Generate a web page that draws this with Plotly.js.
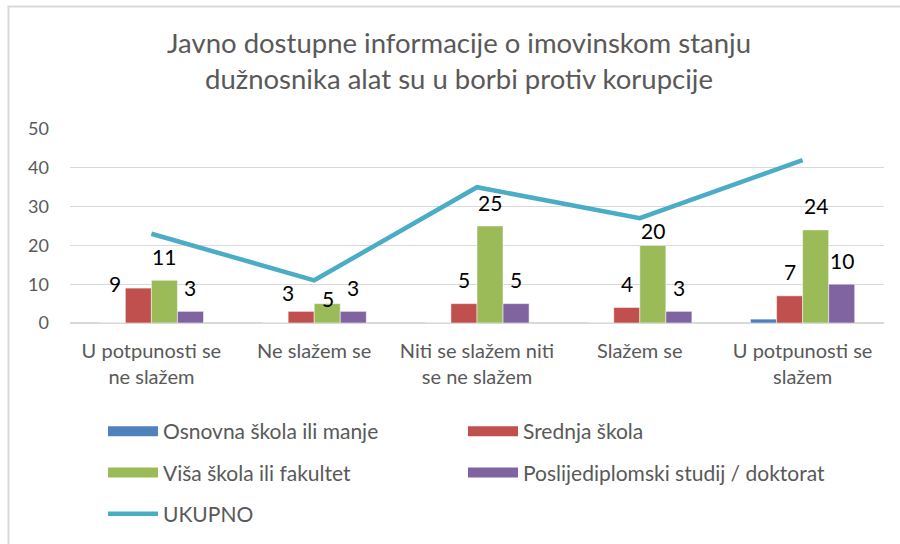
<!DOCTYPE html>
<html>
<head>
<meta charset="utf-8">
<script src="https://cdn.plot.ly/plotly-3.0.1.min.js"></script>
<style>html,body{margin:0;padding:0;background:#fff;}#chart{width:900px;height:544px;}</style>
</head>
<body>
<div id="chart"></div>
<script>
const categories = ["U potpunosti se<br>ne slažem", "Ne slažem se", "Niti se slažem niti<br>se ne slažem", "Slažem se", "U potpunosti se<br>slažem"];
const seriesNames = ["Osnovna škola ili manje", "Srednja škola", "Viša škola ili fakultet", "Poslijediplomski studij / doktorat"];
const osnovna = [0, 0, 0, 0, 1];
const srednja = [9, 3, 5, 4, 7];
const visa = [11, 5, 25, 20, 24];
const poslijediplomski = [3, 3, 5, 3, 10];
const ukupnoName = "UKUPNO";
const ukupno = [23, 11, 35, 27, 42];
const titleText = "Javno dostupne informacije o imovinskom stanju<br>dužnosnika alat su u borbi protiv korupcije";

const seriesValues = [osnovna, srednja, visa, poslijediplomski];
const colors = ["#4F81BD", "#C0504D", "#9BBB59", "#8064A2"];
const lineColor = "#4BACC6";
const FONT = "Lato, 'Open Sans', sans-serif";

const W = 900, H = 544, ML = 70, MR = 16, MT = 129, MB = 221;
const PW = W - ML - MR, PH = H - MT - MB;
const BARGAP = 0.36;
const barPx = PW / categories.length * (1 - BARGAP) / seriesValues.length;

const traces = [];
seriesValues.forEach((vals, i) => {
  traces.push({
    type: "bar", x: categories, y: vals, name: seriesNames[i],
    marker: {color: colors[i], line: {color: "#ffffff", width: 0.5}},
    showlegend: false, hoverinfo: "x+y+name"
  });
});
traces.push({
  type: "scatter", mode: "lines", x: categories, y: ukupno, name: ukupnoName,
  line: {color: lineColor, width: 4.5}, legend: "legend", legendrank: 3, legendgroup: "g5"
});
// legend swatches for bar series
const legendOf = ["legend", "legend2", "legend", "legend2"];
const rankOf = [1, 1, 2, 2];
seriesNames.forEach((n, i) => {
  traces.push({
    type: "scatter", mode: "lines", x: [null], y: [null], name: n,
    line: {color: colors[i], width: 13}, legend: legendOf[i], legendrank: rankOf[i],
    legendgroup: "g" + i, hoverinfo: "skip"
  });
});

// data labels (Srednja, Viša, Poslijediplomski)
const defaultLift = 24;
const nudges = {"1-0": [-23, 5], "1-1": [-13, 19], "2-1": [1, 5], "2-3": [0, 15]};
const annotations = [];
for (let s = 1; s < seriesValues.length; s++) {
  seriesValues[s].forEach((v, c) => {
    const off = (s - (seriesValues.length - 1) / 2) * barPx;
    const n = nudges[s + "-" + c];
    annotations.push({
      x: categories[c], y: v, xref: "x", yref: "y",
      text: String(v), showarrow: false,
      xshift: off + (n ? n[0] : 0), yshift: n ? n[1] : defaultLift,
      font: {family: FONT, size: 21, color: "#000000"}
    });
  });
}

const px2x = p => (p - ML) / PW;
const px2y = p => (H - MB - p) / PH;

const legendCommon = {
  orientation: "v", xref: "container", yref: "container", yanchor: "top", xanchor: "left",
  font: {family: FONT, size: 21, color: "#595959"}, bgcolor: "rgba(0,0,0,0)",
  itemwidth: 50, tracegroupgap: 11, traceorder: "grouped", itemclick: false, itemdoubleclick: false
};

const layout = {
  width: W, height: H,
  margin: {l: ML, r: MR, t: MT, b: MB, autoexpand: false},
  paper_bgcolor: "#ffffff", plot_bgcolor: "#ffffff",
  font: {family: FONT, color: "#595959"},
  title: {text: titleText, font: {family: FONT, size: 27.5, color: "#595959"},
          x: 0.51, xanchor: "center", yref: "container", y: 1 - 53 / H, yanchor: "top"},
  barmode: "group", bargap: BARGAP, bargroupgap: 0,
  xaxis: {type: "category", ticks: "", showgrid: false, zeroline: false, showline: false, automargin: false,
          tickfont: {family: FONT, size: 20, color: "#595959"}, ticklabelstandoff: 14, fixedrange: true},
  yaxis: {range: [0, 50], dtick: 10, tick0: 0, ticks: "", showline: false, automargin: false,
          gridcolor: "#D9D9D9", gridwidth: 1.3, zeroline: true, zerolinecolor: "#D9D9D9", zerolinewidth: 1.3,
          tickfont: {family: FONT, size: 18, color: "#595959"}, ticklabelstandoff: 20, fixedrange: true},
  legend: Object.assign({}, legendCommon, {x: 103 / W, y: 1 - 411 / H}),
  legend2: Object.assign({}, legendCommon, {x: 463 / W, y: 1 - 411 / H}),
  annotations: annotations,
  shapes: [{type: "rect", xref: "paper", yref: "paper",
            x0: px2x(8.5), x1: px2x(W + 10), y0: px2y(H + 10), y1: px2y(6.5),
            line: {color: "#D9D9D9", width: 2}, fillcolor: "rgba(0,0,0,0)", layer: "below"}],
  showlegend: true
};

Plotly.newPlot("chart", traces, layout, {displayModeBar: false, staticPlot: true});
</script>
</body>
</html>
